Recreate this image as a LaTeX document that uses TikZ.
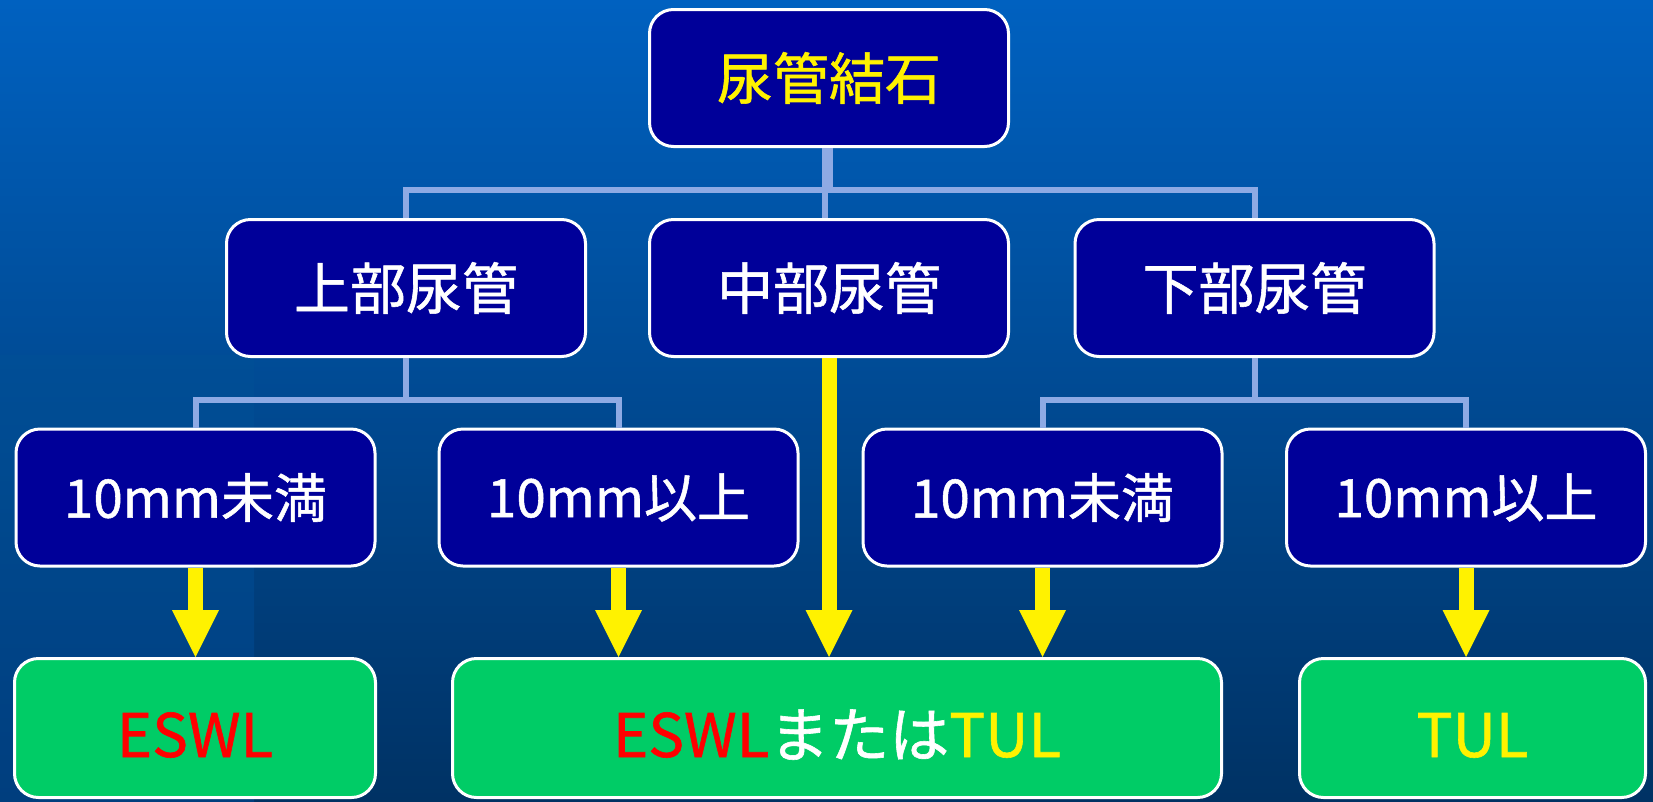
\documentclass[tikz,border=0pt]{standalone}
\usepackage{fontspec}
\setmainfont{Noto Sans CJK JP}[FakeBold=1]
\usetikzlibrary{arrows.meta}
\definecolor{bgtop}{RGB}{0,97,192}
\definecolor{bgbot}{RGB}{0,50,100}
\definecolor{striptop}{RGB}{0,78,150}
\definecolor{stripbot}{RGB}{0,62,126}
\definecolor{navy}{RGB}{0,0,153}
\definecolor{boxgreen}{RGB}{0,204,102}
\definecolor{connblue}{RGB}{142,170,228}
\tikzset{
  box/.style={draw=white, line width=3pt, rounded corners=24pt, fill=navy, text=white,
    font=\fontsize{56}{60}\selectfont, minimum width=359pt, minimum height=137pt, inner sep=0pt},
  midbox/.style={box, font=\fontsize{53}{58}\selectfont},
  gbox/.style={box, fill=boxgreen, minimum height=139pt, font=\fontsize{60}{64}\selectfont,
    text height=58pt, text depth=0pt},
  conn/.style={draw=connblue, line width=6pt},
  arr/.style={draw=yellow, line width=15pt, -{Triangle[width=47pt,length=47pt,line width=0pt]}}
}
\begin{document}
\begin{tikzpicture}[x=1pt,y=-1pt]
\useasboundingbox (0,0) rectangle (1653,801);
\shade[top color=bgtop, bottom color=bgbot] (0,0) rectangle (1653,801);
\shade[top color=striptop, bottom color=stripbot] (0,355) rectangle (254,801);

% boxes
\node[box, text=yellow] (top) at (829,78) {尿管結石};
\node[box] (l2a) at (406,288) {上部尿管};
\node[box] (m2) at (829,288) {中部尿管};
\node[box] (l2c) at (1254.5,288) {下部尿管};
\node[midbox] (l3a) at (195.5,497.5) {10mm未満};
\node[midbox] (l3b) at (618.5,497.5) {10mm以上};
\node[midbox] (l3c) at (1042.5,497.5) {10mm未満};
\node[midbox] (l3d) at (1466,497.5) {10mm以上};
\node[gbox, minimum width=361pt] (b1) at (195,728) {\textcolor{red}{ESWL}};
\node[gbox, minimum width=769pt] (b2) at (837,728) {\textcolor{red}{ESWL}または\textcolor{yellow}{TUL}};
\node[gbox, minimum width=346pt, text=yellow] (b3) at (1472.5,728) {TUL};

% tree connectors
\coordinate (j1) at (830,190);
\coordinate (j2) at (406,400);
\coordinate (j3) at (1254.5,400);
\draw[conn] ([xshift=1pt]top.south) -- (j1);
\draw[conn] ([xshift=-4pt]top.south) -- ([xshift=-4pt]m2.north);
\draw[conn] (l2a.north) |- (j1) -| (l2c.north);
\draw[conn] (l2a.south) -- (j2);
\draw[conn] (l3a.north) |- (j2) -| (l3b.north);
\draw[conn] (l2c.south) -- (j3);
\draw[conn] (l3c.north) |- (j3) -| (l3d.north);

% arrows
\draw[arr] (l3a.south) -- (l3a.south |- b1.north);
\draw[arr] (l3b.south) -- (l3b.south |- b2.north);
\draw[arr] (m2.south) -- (m2.south |- b2.north);
\draw[arr] (l3c.south) -- (l3c.south |- b2.north);
\draw[arr] (l3d.south) -- (l3d.south |- b3.north);
\end{tikzpicture}
\end{document}
